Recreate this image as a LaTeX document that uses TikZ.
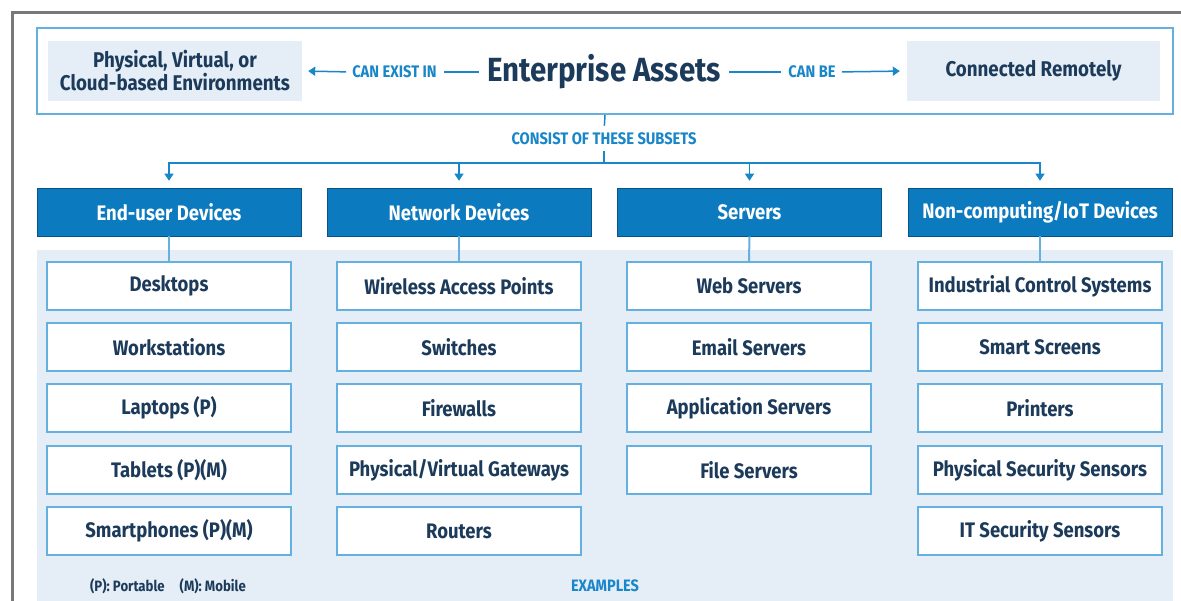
\documentclass[tikz,border=0pt]{standalone}
\usepackage{fontspec}
\setmainfont{Fira Sans}[FakeStretch=0.88]
\usetikzlibrary{arrows.meta}
\definecolor{hblue}{RGB}{11,122,190}
\definecolor{lblue}{RGB}{100,176,224}
\definecolor{panel}{RGB}{229,238,246}
\definecolor{navy}{RGB}{28,58,90}
\definecolor{tblue}{RGB}{24,134,200}
\definecolor{frame}{RGB}{120,120,120}
\tikzset{
  item/.style={draw=lblue, line width=1.8pt, fill=white, minimum width=244pt, minimum height=48pt,
    inner sep=0pt, font=\bfseries\fontsize{21}{24}\selectfont, text=navy},
  head/.style={fill=hblue, draw=hblue!70!black, line width=0.6pt, minimum width=264pt, minimum height=48pt,
    inner sep=0pt, font=\bfseries\fontsize{21}{24}\selectfont, text=white},
  env/.style={fill=panel, minimum width=254pt, minimum height=60pt, inner sep=0pt,
    font=\bfseries\fontsize{21.3}{24}\selectfont, text=navy, align=center},
  lab/.style={font=\bfseries\fontsize{16.7}{18}\selectfont, text=tblue, inner sep=0pt},
  conn/.style={draw=tblue, line width=1.5pt},
  arr/.style={conn, -{Triangle[width=9pt,length=7pt]}},
  link/.style={draw=lblue, line width=2pt}
}
\begin{document}
\begin{tikzpicture}[x=1pt,y=-1pt]
\useasboundingbox (0,0) rectangle (1181,601);
\fill[white] (0,0) rectangle (1181,601);
% outer grey frame
\draw[frame, line width=3pt] (12,601) -- (12,13) -- (1181,13);
% top box
\node[draw=lblue, line width=2pt, minimum width=1136pt, minimum height=86pt, inner sep=0pt] (top) at (605,71) {};
\node[env] (left) at (175,71) {Physical, Virtual, or\\[-1pt]Cloud-based Environments};
\node[env, minimum width=253pt] (right) at (1033.5,71) {Connected Remotely};
\node[font=\bfseries\fontsize{33.5}{40}\selectfont, text=navy, inner sep=0pt] (ea) at (604,72) {Enterprise Assets};
\node[lab] (lexist) at (394.5,72) {CAN EXIST IN};
\node[lab] (lbe) at (812,72) {CAN BE};
\draw[conn, shorten <=8pt, shorten >=7pt] (ea.west) -- (lexist.east);
\draw[arr, shorten <=6pt, shorten >=6pt] (lexist.west) -- (left.east);
\draw[conn, shorten <=8pt, shorten >=7pt] (ea.east) -- (lbe.west);
\draw[arr, shorten <=6pt, shorten >=7pt] (lbe.east) -- (right.west);
% subsets
\node[lab] (lsub) at (604,139) {CONSIST OF THESE SUBSETS};
\coordinate (bus) at (604,163);
\draw[conn, shorten >=7pt] (top.south) -- (lsub.north);
\draw[conn, shorten <=6pt] (lsub.south) -- (bus);
% panel
\fill[panel] (37,250) rectangle (1173,601);
% headers
\node[head] (h1) at (169,212) {End-user Devices};
\node[head] (h2) at (459,212) {Network Devices};
\node[head] (h3) at (749.5,212) {Servers};
\node[head] (h4) at (1040,212) {Non-computing/IoT Devices};
\foreach \h in {h1,h2,h3,h4}{\draw[arr, shorten >=7pt] (bus) -| (\h.north);}
% column 1
\node[item] (a1) at (169,286) {Desktops};
\node[item] (a2) at (169,347) {Workstations};
\node[item] (a3) at (169,408) {Laptops (P)};
\node[item] (a4) at (169,470) {Tablets (P)(M)};
\node[item] (a5) at (169,531) {Smartphones (P)(M)};
% column 2
\node[item] (b1) at (459,286) {Wireless Access Points};
\node[item] (b2) at (459,347) {Switches};
\node[item] (b3) at (459,408) {Firewalls};
\node[item] (b4) at (459,470) {Physical/Virtual Gateways};
\node[item] (b5) at (459,531) {Routers};
% column 3
\node[item] (c1) at (749,286) {Web Servers};
\node[item] (c2) at (749,347) {Email Servers};
\node[item] (c3) at (749,408) {Application Servers};
\node[item] (c4) at (749,470) {File Servers};
% column 4
\node[item] (d1) at (1040,286) {Industrial Control Systems};
\node[item] (d2) at (1040,347) {Smart Screens};
\node[item] (d3) at (1040,408) {Printers};
\node[item] (d4) at (1040,470) {Physical Security Sensors};
\node[item] (d5) at (1040,531) {IT Security Sensors};
% header to first item
\draw[link] (h1.south) -- (a1.north);
\draw[link] (h2.south) -- (b1.north);
\draw[link] (h3.south) -- (c1.north);
\draw[link] (h4.south) -- (d1.north);
% footer
\node[font=\bfseries\fontsize{15}{17}\selectfont, text=navy, inner sep=0pt] (note) at (168,586) {(P): Portable\quad(M): Mobile};
\node[lab, font=\bfseries\fontsize{16.5}{18}\selectfont] (examples) at (605,586) {EXAMPLES};
\end{tikzpicture}
\end{document}
